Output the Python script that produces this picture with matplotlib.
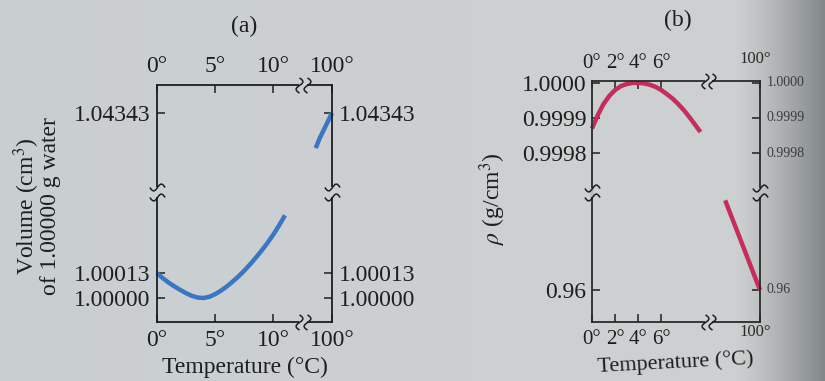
import numpy as np
import matplotlib
matplotlib.use("Agg")
import matplotlib.pyplot as plt

plt.rcParams['font.family'] = ['Liberation Serif', 'DejaVu Serif']
plt.rcParams['mathtext.fontset'] = 'stix'

# ---- data: panel (a) volume of 1 g water ----
temp_cold_a = [0, 0.5, 1, 1.5, 2, 2.5, 3, 3.5, 4, 4.5, 5, 5.5, 6, 6.5, 7, 7.5,
               8, 8.5, 9, 9.5, 10, 10.5, 11]
vol_cold_a = [1.00013, 1.000103, 1.00008, 1.00006, 1.000042, 1.000025, 1.000011,
              1.000002, 1.000000, 1.000006, 1.00002, 1.000038, 1.00006, 1.000085,
              1.000112, 1.000142, 1.000175, 1.00021, 1.000247, 1.000287, 1.00033,
              1.000378, 1.00043]
temp_hot_a = [97.4, 98, 99, 100]
vol_hot_a = [1.04085, 1.04154, 1.04248, 1.04343]
xticks_a = [0, 5, 10, 100]
xlabels_a = ['0°', '5°', '10°', '100°']
yticks_a = [1.00000, 1.00013, 1.04343]
ylabels_a = ['1.00000', '1.00013', '1.04343']

# ---- data: panel (b) density ----
temp_cold_b = [0, 0.5, 1, 1.5, 2, 2.5, 3, 3.5, 4, 4.5, 5, 5.5, 6, 6.5, 7, 7.5,
               8, 8.5, 9, 9.4]
rho_cold_b = [0.99987, 0.999908, 0.99994, 0.999963, 0.99998, 0.999991, 0.999997,
              1.0, 1.0, 0.999999, 0.999995, 0.999989, 0.99998, 0.999968, 0.999955,
              0.999939, 0.999921, 0.9999, 0.999878, 0.99986]
temp_hot_b = [91.3, 94, 97, 100]
rho_hot_b = [0.9684, 0.9658, 0.9629, 0.9600]
xticks_b = [0, 2, 4, 6, 100]
xlabels_b = ['0°', '2°', '4°', '6°', '']
yticks_b = [0.96, 0.9998, 0.9999, 1.0000]
ylabels_b = ['0.96', '0.9998', '0.9999', '1.0000']

ink = '#1e1e1e'
bg_mid = (0.80, 0.82, 0.82)


def piecewise(data_pts, frac_pts):
    # broken axis: linear pieces glued together
    fwd = lambda v: np.interp(v, data_pts, frac_pts)
    inv = lambda f: np.interp(f, frac_pts, data_pts)
    return (fwd, inv)


def squiggle(horizontal):
    t = np.linspace(-1, 1, 15)
    s = 0.45 * np.sin(np.pi * t)
    return list(zip(t, s)) if horizontal else list(zip(s, t))


def break_x(ax, f1, f2, color):
    for yy in (0, 1):
        ax.plot([f1, f2], [yy, yy], transform=ax.transAxes, color=color,
                lw=3, clip_on=False, zorder=5, solid_capstyle='butt')
        ax.plot([f1, f2], [yy, yy], transform=ax.transAxes, ls='none',
                marker=squiggle(False), ms=11, mfc='none', mec=ink, mew=1.1,
                clip_on=False, zorder=6)


def break_y(ax, f1, f2, color):
    for xx in (0, 1):
        ax.plot([xx, xx], [f1, f2], transform=ax.transAxes, color=color,
                lw=3, clip_on=False, zorder=5, solid_capstyle='butt')
        ax.plot([xx, xx], [f1, f2], transform=ax.transAxes, ls='none',
                marker=squiggle(True), ms=11, mfc='none', mec=ink, mew=1.1,
                clip_on=False, zorder=6)


fig = plt.figure(figsize=(8.25, 3.81), dpi=100)

# photographed page background
bg = fig.add_axes([0, 0, 1, 1], zorder=-10)
xs = np.linspace(0, 1, 400)
shade = np.clip((xs - 0.89) / 0.11, 0, 1) ** 1.3
r = 0.79 + 0.02 * xs - 0.30 * shade
g = 0.81 + 0.01 * xs - 0.29 * shade
b = 0.82 + 0.00 * xs - 0.29 * shade
grad = np.stack([r, g, b], axis=-1)[None, :, :]
bg.imshow(np.repeat(grad, 10, axis=0), aspect='auto', extent=[0, 1, 0, 1])
bg.axis('off')

# ---------------- panel (a) ----------------
ax = fig.add_axes([157 / 825, 59 / 381, 175 / 825, 237 / 381])
ax.patch.set_alpha(0)
ax.set_xscale('function', functions=piecewise([0, 12.2, 96, 100], [0, 0.811, 0.857, 1]))
ax.set_yscale('function', functions=piecewise([0.999875, 1.000525, 1.038, 1.04548],
                                              [0, 0.527, 0.570, 1]))
ax.set_xlim(0, 100)
ax.set_ylim(0.999875, 1.04548)
ax.plot(temp_cold_a, vol_cold_a, color='#3a76c4', lw=3.2, solid_capstyle='butt', clip_on=False)
ax.plot(temp_hot_a, vol_hot_a, color='#3a76c4', lw=3.2, solid_capstyle='butt', clip_on=False)
ax.set_xticks(xticks_a, xlabels_a)
ax.set_yticks(yticks_a, ylabels_a)
ax.tick_params(direction='in', top=True, right=True, labeltop=True, labelright=True,
               labelsize=17, colors=ink, length=6, width=1.1, pad=5)
ax.tick_params(axis='x', which='both', bottom=True, pad=6)
for sp in ax.spines.values():
    sp.set_color(ink)
    sp.set_linewidth(1.3)
ax.set_xlabel('Temperature (°C)', fontsize=17, color=ink, labelpad=4)
ax.set_ylabel('Volume (cm$^3$)\nof 1.00000 g water', fontsize=17, color=ink, linespacing=0.85)
ax.yaxis.set_label_coords(-0.55, 0.49)
break_x(ax, 0.811, 0.857, bg_mid)
break_y(ax, 0.527, 0.570, bg_mid)
fig.text(244 / 825, 1 - 26 / 381, '(a)', fontsize=17, color=ink, ha='center', va='center')

# ---------------- panel (b) ----------------
bx = fig.add_axes([592 / 825, 59 / 381, 168 / 825, 241 / 381])
bx.patch.set_alpha(0)
bx.set_xscale('function', functions=piecewise([0, 9.8, 88, 100], [0, 0.673, 0.714, 1]))
bx.set_yscale('function', functions=piecewise([0.957, 0.96872, 0.9997, 1.0000057],
                                              [0, 0.519, 0.556, 1]))
bx.set_xlim(0, 100)
bx.set_ylim(0.957, 1.0000057)
bx.plot(temp_cold_b, rho_cold_b, color='#c42d5c', lw=3.2, solid_capstyle='butt', clip_on=False)
bx.plot(temp_hot_b, rho_hot_b, color='#c42d5c', lw=3.2, solid_capstyle='butt', clip_on=False)
bx.set_xticks(xticks_b, xlabels_b)
bx.set_yticks(yticks_b, ylabels_b)
bx.tick_params(direction='in', top=True, right=True, labeltop=True, labelright=False,
               colors=ink, length=6, width=1.1, pad=4)
bx.tick_params(axis='x', labelsize=15, pad=6)
bx.tick_params(axis='y', labelsize=17)
for sp in bx.spines.values():
    sp.set_color('#2a2a2a')
    sp.set_linewidth(1.3)
# small faded labels on the right spine
for v, lab in zip(yticks_b, ylabels_b):
    bx.text(1.04, v, lab, transform=bx.get_yaxis_transform(), fontsize=10,
            color='#3a3d3d', ha='left', va='center')
bx.text(0.97, 1.06, '100°', transform=bx.transAxes, fontsize=12, color='#2a2a2a',
        ha='center', va='bottom')
bx.text(0.97, -0.01, '100°', transform=bx.transAxes, fontsize=12, color='#2a2a2a',
        ha='center', va='top')
bx.set_xlabel('Temperature (°C)', fontsize=16, color=ink, labelpad=0, rotation=3)
bx.set_ylabel(r'$\rho$ (g/cm$^3$)', fontsize=17, color=ink)
bx.yaxis.set_label_coords(-0.50, 0.51)
break_x(bx, 0.673, 0.714, bg_mid)
break_y(bx, 0.519, 0.556, (0.72, 0.74, 0.74))
fig.text(678 / 825, 1 - 20 / 381, '(b)', fontsize=17, color=ink, ha='center', va='center')

fig.savefig('out.png', dpi=100)
